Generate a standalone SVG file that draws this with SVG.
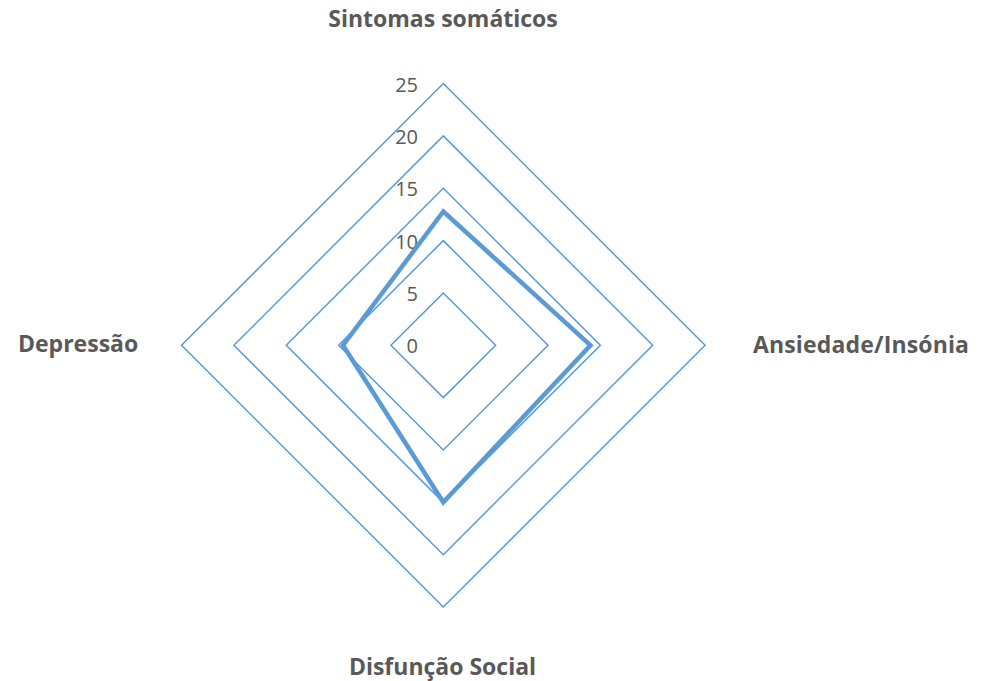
<svg xmlns="http://www.w3.org/2000/svg" width="981" height="681" viewBox="0 0 981 681">
  <style>
    .grid { fill: none; stroke: #5B9BD5; stroke-width: 1.5; }
    .data { fill: none; stroke: #5B9BD5; stroke-width: 4.5; stroke-linejoin: miter; }
    .tick { font-family: "Open Sans", "Liberation Sans", sans-serif; font-size: 20px; fill: #595959; text-anchor: end; }
    .cat { font-family: "Open Sans", "Liberation Sans", sans-serif; font-size: 23px; font-weight: bold; fill: #595959; }
  </style>
  <rect width="981" height="681" fill="#ffffff"/>
  <g id="grid">
    <polygon class="grid" points="443.3,292.95 495.65,345.3 443.3,397.65 390.95,345.3"/>
    <polygon class="grid" points="443.3,240.6 548,345.3 443.3,450 338.6,345.3"/>
    <polygon class="grid" points="443.3,188.25 600.35,345.3 443.3,502.35 286.25,345.3"/>
    <polygon class="grid" points="443.3,135.9 652.7,345.3 443.3,554.7 233.9,345.3"/>
    <polygon class="grid" points="443.3,83.55 705.05,345.3 443.3,607.05 181.55,345.3"/>
  </g>
  <g id="ticks">
    <text class="tick" x="418" y="92">25</text>
    <text class="tick" x="418" y="144">20</text>
    <text class="tick" x="418" y="196">15</text>
    <text class="tick" x="418" y="249">10</text>
    <text class="tick" x="418" y="301">5</text>
    <text class="tick" x="418" y="353">0</text>
  </g>
  <g id="connectors">
    <polygon id="series" class="data" points="443.3,211.5 590.5,345.3 443.3,502.3 343,345.3"/>
  </g>
  <g id="cat-top"><text class="cat" x="443" y="27" text-anchor="middle">Sintomas somáticos</text></g>
  <g id="cat-right"><text class="cat" x="753" y="353" textLength="216" lengthAdjust="spacing">Ansiedade/Insónia</text></g>
  <g id="cat-bottom"><text class="cat" x="442.5" y="675" text-anchor="middle">Disfunção Social</text></g>
  <g id="cat-left"><text class="cat" x="18" y="352">Depressão</text></g>
</svg>
